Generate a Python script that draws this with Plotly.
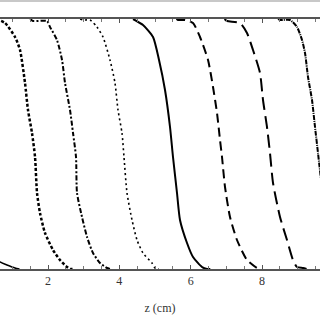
import plotly.graph_objects as go

# Front profiles: z (cm) vs normalized value
z0 = [0.30, 0.654, 0.850, 1.075, 1.20]
y0 = [0.060, 0.028, 0.016, 0.004, 0.0]

z1 = [0.55, 0.794, 1.075, 1.215, 1.355, 1.439, 1.551, 1.636, 1.692, 1.775, 1.916, 2.140, 2.336, 2.533, 2.617, 2.70]
y1 = [1.0, 0.984, 0.928, 0.876, 0.744, 0.636, 0.544, 0.448, 0.304, 0.224, 0.144, 0.076, 0.036, 0.008, 0.0, 0.0]

z2 = [1.50, 1.579, 1.972, 2.056, 2.252, 2.393, 2.477, 2.617, 2.701, 2.785, 2.813, 2.953, 3.094, 3.261, 3.458, 3.654, 3.75]
y2 = [1.0, 0.992, 0.992, 0.968, 0.916, 0.836, 0.744, 0.636, 0.544, 0.448, 0.304, 0.208, 0.128, 0.064, 0.024, 0.004, 0.0]

z3 = [2.90, 2.981, 3.178, 3.373, 3.542, 3.738, 3.878, 3.962, 4.074, 4.130, 4.215, 4.355, 4.495, 4.663, 4.915, 5.000, 5.10]
y3 = [1.0, 0.996, 0.996, 0.968, 0.928, 0.836, 0.744, 0.636, 0.544, 0.448, 0.304, 0.196, 0.116, 0.064, 0.024, 0.004, 0.0]

z4 = [4.383, 4.663, 4.944, 5.112, 5.280, 5.420, 5.504, 5.616, 5.700, 5.897, 6.065, 6.317, 6.458, 6.55]
y4 = [1.0, 0.976, 0.928, 0.836, 0.716, 0.568, 0.448, 0.304, 0.196, 0.104, 0.048, 0.008, 0.0, 0.0]

z5 = [5.60, 5.644, 5.841, 6.065, 6.261, 6.486, 6.626, 6.738, 6.822, 6.878, 6.962, 7.102, 7.298, 7.578, 7.859, 7.95]
y5 = [1.0, 0.996, 0.996, 0.984, 0.928, 0.836, 0.728, 0.624, 0.516, 0.448, 0.328, 0.208, 0.116, 0.036, 0.004, 0.0]

z6 = [6.95, 7.018, 7.382, 7.578, 7.747, 7.943, 8.027, 8.139, 8.223, 8.308, 8.504, 8.700, 8.868, 8.981, 9.15, 9.25]
y6 = [1.0, 0.992, 0.984, 0.944, 0.876, 0.784, 0.676, 0.568, 0.464, 0.344, 0.208, 0.116, 0.036, 0.008, 0.004, 0.0]

z7 = [8.45, 8.504, 8.784, 8.981, 9.121, 9.205, 9.289, 9.401, 9.485, 9.569, 9.70, 9.85, 10.1]
y7 = [1.0, 0.996, 0.996, 0.968, 0.916, 0.864, 0.768, 0.676, 0.568, 0.464, 0.30, 0.12, 0.0]

series = [
    (z0, y0, "solid", 1.5),
    (z1, y1, "3px,2px", 2.5),
    (z2, y2, "5px,2px,2px,2px", 2.0),
    (z3, y3, "2px,3px", 1.6),
    (z4, y4, "solid", 2.0),
    (z5, y5, "9px,5px", 2.0),
    (z6, y6, "13px,6px", 2.0),
    (z7, y7, "5px,1px,1px,1px", 2.0),
]

fig = go.Figure()
for zs, ys, dash, w in series:
    fig.add_trace(go.Scatter(x=zs, y=ys, mode="lines",
                             line=dict(color="black", width=w, dash=dash,
                                       shape="spline", smoothing=0.6),
                             showlegend=False, hoverinfo="skip"))

fig.update_layout(
    width=320, height=320,
    margin=dict(l=0, r=0, t=19, b=51),
    paper_bgcolor="white", plot_bgcolor="white",
    font=dict(family="Liberation Serif", size=12, color="#333"),
    xaxis=dict(
        range=[0.654, 9.625], tick0=0, dtick=2,
        showgrid=False, zeroline=False,
        showline=True, linecolor="#555", linewidth=1.5, mirror="ticks",
        ticks="inside", ticklen=4, tickcolor="#555", tickwidth=1,
        minor=dict(dtick=0.5, tick0=0, ticks="inside", ticklen=3, tickcolor="#777", showgrid=False),
        tickfont=dict(family="Liberation Serif", size=12, color="#333"),
        title=dict(text="z (cm)", standoff=16,
                   font=dict(family="Liberation Serif", size=12, color="#333")),
    ),
    yaxis=dict(range=[0, 1], visible=False),
    shapes=[dict(type="rect", xref="paper", yref="paper",
                 x0=0, x1=1, y0=1.068, y1=1.076,
                 fillcolor="#c8c8c8", line=dict(width=0), layer="above")],
)

fig.write_html("out.html")
